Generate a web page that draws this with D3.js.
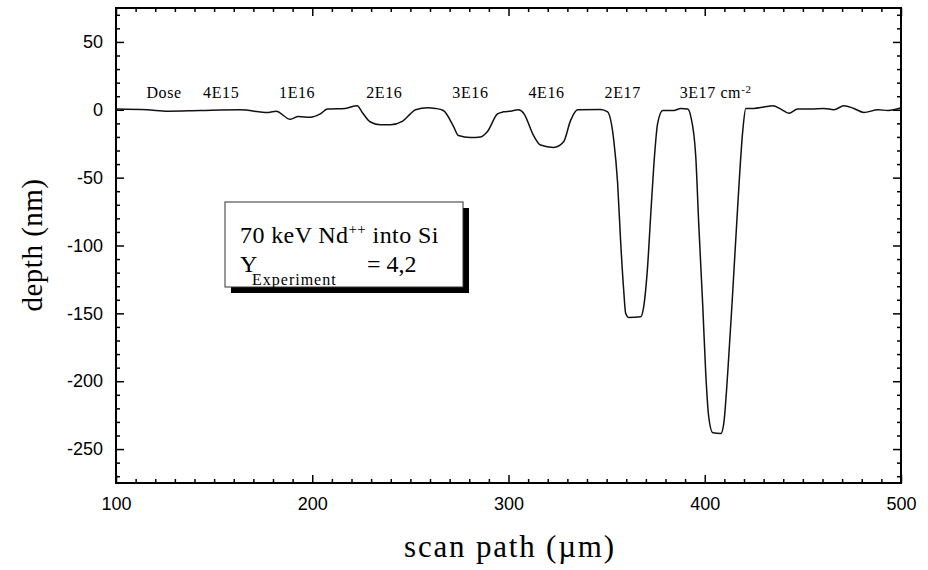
<!DOCTYPE html>
<html><head><meta charset="utf-8">
<script src="https://cdn.jsdelivr.net/npm/d3@7"></script>
<style>body{margin:0;background:#fff}</style>
</head><body><svg id="c" width="928" height="570"></svg>
<script>
// scan path (µm)
const scanX = [100,115.8,126.5,142.9,163.3,177.6,181.6,188.8,192.9,199,204.1,207.7,216.8,222.9,225.5,229.6,234.7,239.8,245.9,250,252.6,258.7,262.8,266.8,271.9,274.5,280.6,285.7,289.3,294.4,297.4,301,305.1,307.7,312.8,316.3,323,328.1,331.6,335.2,346.9,350.5,353.6,355.6,357.1,358.7,359.7,361.2,367.3,368.9,370.9,372.4,374,376,378.6,384.2,387.8,391.3,392.9,395.4,396.9,399,400.5,402,404.1,408.2,409.7,411.7,414.3,416.8,419.4,420.9,425,430.1,434.7,438.8,442.9,447.4,454.1,460.7,465.8,470.9,476,481.1,488.3,493.4,500];
// depth (nm)
const depth = [0.5,0,-1,-0.5,0,-2,-1,-7,-5,-5.5,-3,0.5,1,3,-2,-9,-11,-11,-8.5,-3,0,1.5,1,-0.5,-12,-19,-20.5,-20,-16,-3,-1.5,-1,0,-2.5,-19,-26,-27.7,-23.5,-8,0,0.3,-1.5,-22,-54,-96,-133,-150,-153,-152.5,-145,-115,-79,-42,-10,-0.6,-0.6,1,0.5,-5,-34,-83,-145,-194,-226,-238,-238.5,-231,-194,-133,-71,-15,1,1,2,3,0.5,-2.5,0.5,0.5,1,0,3,1,-2,0,-0.5,1.5];
const doseLabels = ["Dose","4E15","1E16","2E16","3E16","4E16","2E17"];
const doseAt = [124.5,153.6,192.3,236.7,280.6,319.4,358.2];
const lastDose = "3E17";
const lastDoseAt = 387.2;
const xMajor = [100,200,300,400,500];
const yMajor = [-250,-200,-150,-100,-50,0,50];
const legendLine1 = "70 keV Nd";
const legendSup = "++";
const legendLine1b = " into Si";
const legendValue = "= 4,2";

const svg = d3.select("#c");
const L=116,R=901,T=8,B=483;
const x = d3.scaleLinear([100,500],[L,R]);
const y = d3.scaleLinear([-275,75],[B,T]);
const xMinor = d3.range(100,501,10).filter(v=>!xMajor.includes(v));
const yMinor = d3.range(-270,71,10).filter(v=>!yMajor.includes(v));

const sans = "'Liberation Sans', Arial, sans-serif";
const serif = "'Liberation Serif', 'Times New Roman', serif";
const fmt = d => String(d);

function styleAxis(g){ g.select(".domain").remove(); g.selectAll("line").attr("stroke","#000").attr("stroke-width",1.5); }

// bottom
svg.append("g").attr("transform",`translate(0,${B})`)
  .call(d3.axisBottom(x).tickValues(xMinor).tickSize(-4).tickFormat(""))
  .call(styleAxis);
svg.append("g").attr("transform",`translate(0,${B})`)
  .call(d3.axisBottom(x).tickValues(xMajor).tickSize(-8).tickPadding(14).tickFormat(fmt))
  .call(styleAxis)
  .selectAll("text").attr("font-family",sans).attr("font-size",18).attr("fill","#000");
// top
svg.append("g").attr("transform",`translate(0,${T})`)
  .call(d3.axisTop(x).tickValues(xMinor).tickSize(-4).tickFormat("")).call(styleAxis);
svg.append("g").attr("transform",`translate(0,${T})`)
  .call(d3.axisTop(x).tickValues(xMajor).tickSize(-8).tickFormat("")).call(styleAxis);
// left
svg.append("g").attr("transform",`translate(${L},0)`)
  .call(d3.axisLeft(y).tickValues(yMinor).tickSize(-4).tickFormat("")).call(styleAxis);
svg.append("g").attr("transform",`translate(${L},0)`)
  .call(d3.axisLeft(y).tickValues(yMajor).tickSize(-8).tickPadding(13).tickFormat(fmt))
  .call(styleAxis)
  .selectAll("text").attr("font-family",sans).attr("font-size",18).attr("fill","#000");
// right
svg.append("g").attr("transform",`translate(${R},0)`)
  .call(d3.axisRight(y).tickValues(yMinor).tickSize(-4).tickFormat("")).call(styleAxis);
svg.append("g").attr("transform",`translate(${R},0)`)
  .call(d3.axisRight(y).tickValues(yMajor).tickSize(-8).tickFormat("")).call(styleAxis);

// frame
svg.append("rect").attr("x",L).attr("y",T).attr("width",R-L).attr("height",B-T)
  .attr("fill","none").attr("stroke","#000").attr("stroke-width",2);

// curve
const line = d3.line().x((d,i)=>x(scanX[i])).y(d=>y(d)).curve(d3.curveMonotoneX);
svg.append("path").attr("d",line(depth)).attr("fill","none").attr("stroke","#111").attr("stroke-width",1.5);

// dose labels
const ly = y(0)-12;
svg.append("g").selectAll("text").data(doseLabels).join("text")
  .attr("x",(d,i)=>x(doseAt[i])).attr("y",ly).attr("text-anchor","middle")
  .attr("font-family",serif).attr("font-size",16).attr("letter-spacing",0.6).text(d=>d);
const t3 = svg.append("text").attr("x",x(lastDoseAt)).attr("y",ly)
  .attr("font-family",serif).attr("font-size",16).attr("letter-spacing",0.6);
t3.append("tspan").text(lastDose+" cm");
t3.append("tspan").attr("dy",-5).attr("font-size",11).text("-2");

// legend box
const bx=225,by=202,bw=238,bh=85;
svg.append("rect").attr("x",bx+6).attr("y",by+6).attr("width",bw).attr("height",bh).attr("fill","#000");
svg.append("rect").attr("x",bx).attr("y",by).attr("width",bw).attr("height",bh).attr("fill","#fff").attr("stroke","#333").attr("stroke-width",1);
const l1 = svg.append("text").attr("x",bx+15).attr("y",by+41).attr("font-family",serif).attr("font-size",24).attr("letter-spacing",0.4);
l1.append("tspan").text(legendLine1);
l1.append("tspan").attr("dy",-9).attr("font-size",15).text(legendSup);
l1.append("tspan").attr("dy",9).text(legendLine1b);
svg.append("text").attr("x",bx+15).attr("y",by+70).attr("font-family",serif).attr("font-size",24).text("Y");
svg.append("text").attr("x",bx+27).attr("y",by+83).attr("font-family",serif).attr("font-size",16).attr("letter-spacing",1).text("Experiment");
svg.append("text").attr("x",bx+142).attr("y",by+70).attr("font-family",serif).attr("font-size",24).text(legendValue);

// axis titles
svg.append("text").attr("transform",`translate(42,245) rotate(-90)`).attr("text-anchor","middle")
  .attr("font-family",serif).attr("font-size",29).attr("letter-spacing",0.5).text("depth  (nm)");
svg.append("text").attr("x",510).attr("y",557).attr("text-anchor","middle")
  .attr("font-family",serif).attr("font-size",31).attr("letter-spacing",1.8).text("scan path (µm)");
</script></body></html>
